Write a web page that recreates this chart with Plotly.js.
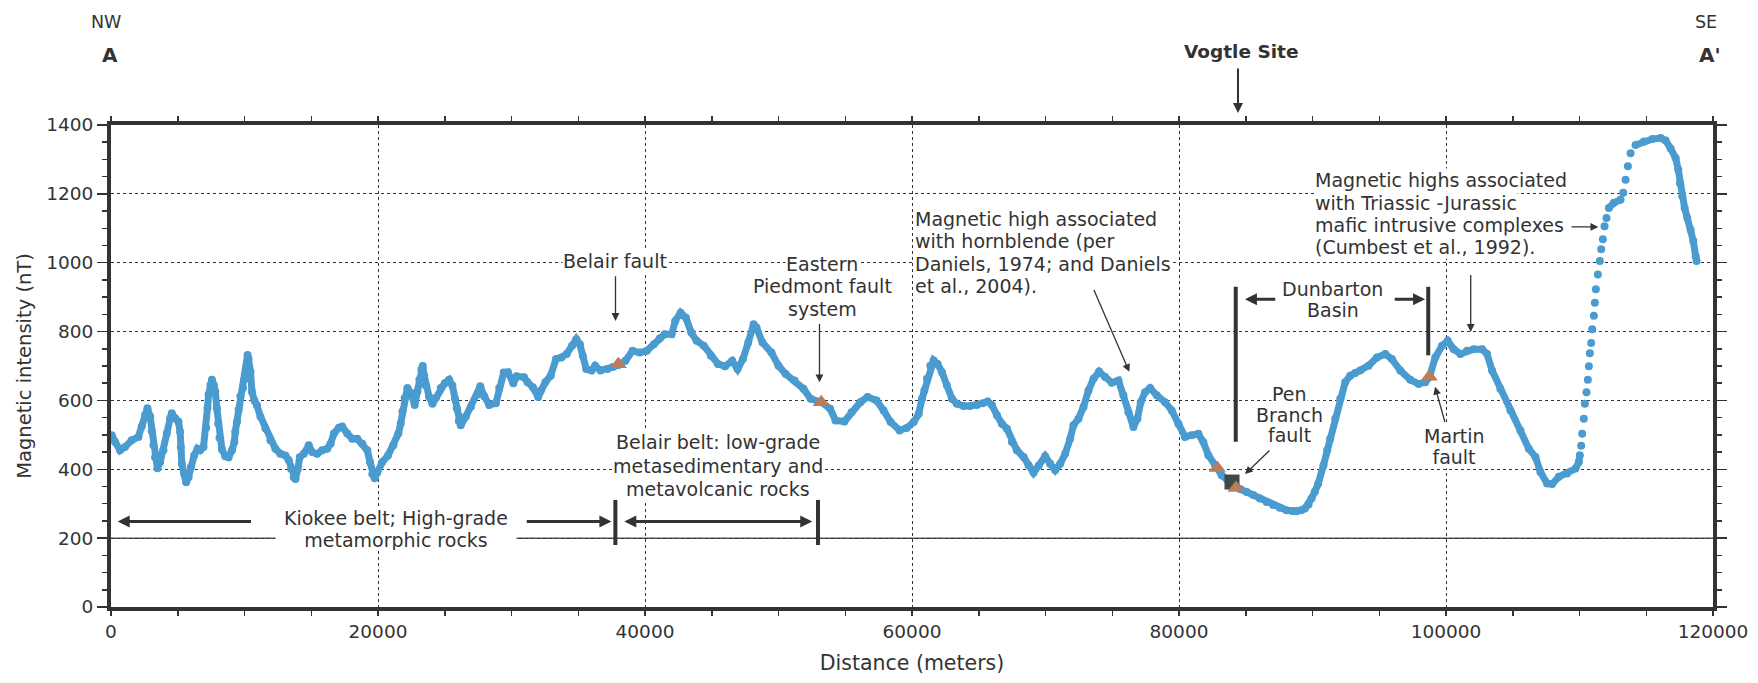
<!DOCTYPE html>
<html><head><meta charset="utf-8">
<script src="https://cdn.plot.ly/plotly-3.0.1.min.js"></script>
<style>html,body{margin:0;padding:0;background:#fff}#chart{width:1758px;height:683px}</style>
</head><body><div id="chart"></div>
<script>
// Distance along profile (m) and magnetic intensity (nT)
const distance = [50,300,675,1050,1550,2050,2300,2550,2730,2930,3050,3180,3300,3480,3680,3930,4180,4430,4555,4805,5055,5180,5230,5305,5480,5630,5805,5980,6230,6480,6680,6930,7130,7230,7310,7450,7560,7700,7810,7930,8030,8130,8310,8560,8810,9060,9240,9310,9440,9560,9690,9890,9990,10105,10230,10300,10450,10560,10740,10940,11190,11560,11940,12315,12690,13065,13315,13490,13690,13815,13990,14140,14440,14815,15065,15440,15820,16195,16445,16695,17070,17320,17695,18070,18445,18825,19200,19400,19575,19750,19950,20325,20750,21150,21525,21700,21830,22000,22200,22450,22750,22950,23100,23250,23350,23460,23585,23835,24080,24330,24700,25000,25330,25570,25770,25900,26050,26200,26580,26960,27460,27660,27960,28330,28830,29080,29420,29735,30135,30400,30935,31200,31600,32000,32185,32535,32935,33335,33735,34135,34535,34855,35120,35335,35600,36000,36265,36665,37200,37600,38000,38535,39065,39600,40135,40665,41100,41465,42000,42265,42665,43065,43465,43865,44400,44935,45465,46000,46535,46935,47335,47735,48135,48350,48800,49470,50000,50535,51200,51870,52400,53200,53870,54270,54935,55470,56135,56670,57335,57870,58400,59070,59600,60125,60500,60750,60925,61125,61375,61620,61920,62245,62620,62990,63365,63865,64365,64865,65300,65660,65985,66360,66735,67110,67485,67855,68355,68730,69105,69480,69975,70350,70725,71100,71475,71850,72095,72470,72845,73220,73595,74015,74465,74965,75465,75835,76210,76585,76885,77135,77460,77835,78330,78955,79455,79955,80450,80950,81450,81825,82200,82700,83195,83700,84190,84600,85065,85560,86060,86560,87060,87560,88060,88500,88805,89150,89430,89700,89925,90175,90425,90825,91100,91325,91700,92075,92450,92825,93200,93575,94200,94825,95450,95950,96575,97325,97950,98450,98750,99200,99700,100125,100575,101075,101575,102075,102700,103075,103450,104075,104825,105575,106200,106700,107075,107575,107950,108450,109075,109700,109950,110025,110125,110200,110325,110400,110525,110625,110700,110775,110875,110950,111075,111150,111225,111375,111525,111625,111750,111875,112025,112200,112575,113075,113275,113450,113625,113825,114200,114825,115450,116075,116450,116825,117200,117400,117525,117700,117875,118075,118325,118525,118700,118775];
const intensity = [499,479,455,465,484,494,524,558,577,553,511,470,435,403,421,455,504,548,563,548,538,509,465,416,386,362,377,406,440,460,455,465,521,579,617,645,660,645,626,577,533,491,458,438,435,455,479,509,538,573,612,636,661,691,732,720,683,625,600,585,553,519,484,460,445,440,426,401,377,372,401,435,445,470,450,445,455,460,474,504,521,524,504,489,489,474,455,421,386,374,391,421,440,470,504,533,568,607,636,622,587,626,660,690,700,672,643,610,590,607,636,650,660,643,605,577,540,528,553,582,617,641,612,587,592,636,681,682,650,670,667,653,638,610,629,653,672,720,725,735,759,778,763,730,691,687,701,687,691,697,703,715,744,739,744,763,780,792,792,831,855,840,797,773,759,730,706,699,715,691,720,768,821,812,768,739,701,677,658,634,605,595,576,542,539,566,595,610,600,571,537,513,520,537,561,605,629,663,701,716,706,682,643,605,590,584,584,587,592,597,587,557,532,518,479,455,436,412,390,410,438,416,397,416,445,489,528,547,581,629,663,684,668,651,658,615,566,523,547,595,624,636,615,595,571,532,494,499,503,479,441,412,383,365,350,342,334,325,315,305,296,288,281,279,278,281,286,298,315,335,358,412,455,489,547,605,653,672,680,687,701,725,735,720,687,660,648,653,667,725,759,773,749,735,744,749,749,735,687,633,571,513,460,436,392,359,357,378,388,402,421,441,468,503,547,590,624,660,699,737,767,807,846,884,923,966,1005,1039,1068,1106,1130,1159,1174,1183,1203,1241,1280,1318,1342,1352,1359,1362,1355,1332,1304,1270,1231,1193,1159,1130,1096,1063,1019,1005];
// Fault locations (triangles) and Vogtle site marker (square)
const faultX = [38000, 53200, 82870, 84270, 98750];
const faultY = [705, 595, 404, 346, 669];
const siteX = [83970];
const siteY = [363];
const xTickVals = [0, 20000, 40000, 60000, 80000, 100000, 120000];
const yTickVals = [0, 200, 400, 600, 800, 1000, 1200, 1400];

// Steep stretches where the samples show as separate dots
const dottedStretches = [[110025, 112200], [113075, 114200]];
const lineY = intensity.map((v, i) => {
  const x = distance[i];
  return dottedStretches.some(r => x > r[0] && x < r[1]) ? null : v;
});

const BLUE = '#4a9bcf', INK = '#333333', FONT = 'DejaVu Sans, Liberation Sans, Arial, sans-serif';

const traces = [
  {x: distance, y: lineY, mode: 'lines', line: {color: BLUE, width: 7}, connectgaps: false, hoverinfo: 'skip', showlegend: false},
  {x: distance, y: intensity, mode: 'markers', marker: {color: BLUE, size: 8}, showlegend: false},
  {x: siteX, y: siteY, mode: 'markers', marker: {symbol: 'square', color: '#3f4849', size: 15}, showlegend: false},
  {x: faultX, y: faultY, mode: 'markers', marker: {symbol: 'triangle-up', color: '#b97d5b', size: 15}, showlegend: false}
];

const F = {family: FONT, size: 19, color: INK};
const txt = (x, y, text, extra) => Object.assign({x, y, xref: 'x', yref: 'y', text, showarrow: false,
  xanchor: 'center', yanchor: 'middle', font: F, bgcolor: 'white', borderpad: 0}, extra || {});
// one annotation per text line so that the line spacing follows the figure
const block = (x, ys, lines, extra) => lines.map((l, i) => txt(x, ys[i], l, Array.isArray(extra) ? extra[i] : extra));
const arr = (x, y, ax, ay, w, extra) => Object.assign({x, y, ax, ay, xref: 'x', yref: 'y', axref: 'x', ayref: 'y',
  text: '', showarrow: true, arrowhead: 2, arrowsize: w > 2 ? 0.8 : 1.2, arrowwidth: w, arrowcolor: INK}, extra || {});
const headText = (x, y, text, size) => ({x, y, xref: 'paper', yref: 'paper', xanchor: 'center', yanchor: 'middle',
  text, showarrow: false, font: {family: FONT, size, color: INK}});

const annotations = [].concat(
  [
    headText(-0.003, 1.214, 'NW', 17.5),
    headText(-0.0006, 1.145, '<b>A</b>', 20),
    headText(0.9956, 1.214, 'SE', 17.5),
    headText(0.998, 1.145, "<b>A'</b>", 20),
    headText(0.7057, 1.153, '<b>Vogtle Site</b>', 18.5),
    {x: 84420, y: 1.025, xref: 'x', yref: 'paper', ax: 0, ay: -46, text: '', showarrow: true, arrowhead: 2, arrowsize: 1, arrowwidth: 2, arrowcolor: INK},
    txt(37750, 1004, 'Belair fault'),
    arr(37790, 831, 37790, 965, 1.3),
    arr(53070, 653, 53070, 826, 1.3),
    arr(76280, 683, 73580, 925, 1.3),
    arr(111410, 1104, 109290, 1104, 1.3),
    arr(101850, 799, 101850, 969, 1.3),
    arr(84940, 894, 87320, 894, 3),
    arr(98430, 894, 96050, 894, 3),
    arr(84940, 386, 86890, 459, 1.3),
    arr(99180, 640, 99950, 533, 1.3),
    arr(52530, 248, 38340, 248, 3, {arrowside: 'end+start'}),
    arr(500, 248, 10600, 248, 3),
    arr(37480, 248, 31030, 248, 3)
  ],
  block(53260, [997, 931, 865], ['Eastern', 'Piedmont fault', 'system']),
  block(60150, [1128, 1063, 997, 932], ['Magnetic high associated', 'with hornblende (per', 'Daniels, 1974; and Daniels', 'et al., 2004).'], {xanchor: 'left'}),
  block(90110, [1240, 1174, 1109, 1046], ['Magnetic highs associated', 'with Triassic -Jurassic', 'mafic intrusive complexes', '(Cumbest et al., 1992).'], {xanchor: 'left'}),
  block(91510, [925, 862], ['Dunbarton', 'Basin'], {bgcolor: 'rgba(0,0,0,0)'}),
  block(88310, [620, 559, 499], ['Pen', 'Branch', 'fault']),
  block(100600, [496, 435], ['Martin', 'fault'], [{}, {width: 100}]),
  block(45500, [478, 410, 342], ['Belair belt: low-grade', 'metasedimentary and', 'metavolcanic rocks']),
  block(21350, [258, 195], ['Kiokee belt; High-grade', 'metamorphic rocks'], [{}, {width: 240, height: 20}])
);

const bar = (x, y0, y1) => ({type: 'line', xref: 'x', yref: 'y', x0: x, x1: x, y0, y1, line: {color: INK, width: 4}});
const shapes = [
  {type: 'line', xref: 'x', yref: 'y', x0: 0, x1: 120000, y0: 200, y1: 200, line: {color: '#555', width: 1.5}, layer: 'below'},
  bar(37780, 180, 311), bar(52960, 180, 311),
  bar(84250, 480, 930), bar(98670, 731, 930)
];

const axisCommon = {
  showgrid: true, gridcolor: INK, griddash: 'dot', gridwidth: 1, zeroline: false,
  showline: true, linewidth: 4, linecolor: INK, mirror: 'ticks',
  ticks: 'outside', tickcolor: INK, tickwidth: 1.5,
  tickfont: {family: FONT, size: 18.5, color: INK}, tickformat: 'd'
};

const layout = {
  width: 1758, height: 683,
  margin: {l: 111, r: 45, t: 125, b: 76},
  paper_bgcolor: 'white', plot_bgcolor: 'white',
  font: {family: FONT, color: INK},
  showlegend: false,
  xaxis: Object.assign({}, axisCommon, {
    range: [0, 120000], tickvals: xTickVals, ticklen: 5,
    minor: {dtick: 5000, ticks: 'outside', ticklen: 5, tickcolor: INK, tickwidth: 1.5, showgrid: false},
    title: {text: 'Distance (meters)', font: {family: FONT, size: 20.5, color: INK}, standoff: 15}
  }),
  yaxis: Object.assign({}, axisCommon, {
    range: [0, 1400], tickvals: yTickVals, ticklen: 10,
    minor: {dtick: 50, ticks: 'outside', ticklen: 5, tickcolor: INK, tickwidth: 1.5, showgrid: false},
    title: {text: 'Magnetic intensity (nT)', font: {family: FONT, size: 19.5, color: INK}, standoff: 10}
  }),
  annotations, shapes
};

Plotly.newPlot('chart', traces, layout, {staticPlot: true, displayModeBar: false});
</script>
</body></html>
